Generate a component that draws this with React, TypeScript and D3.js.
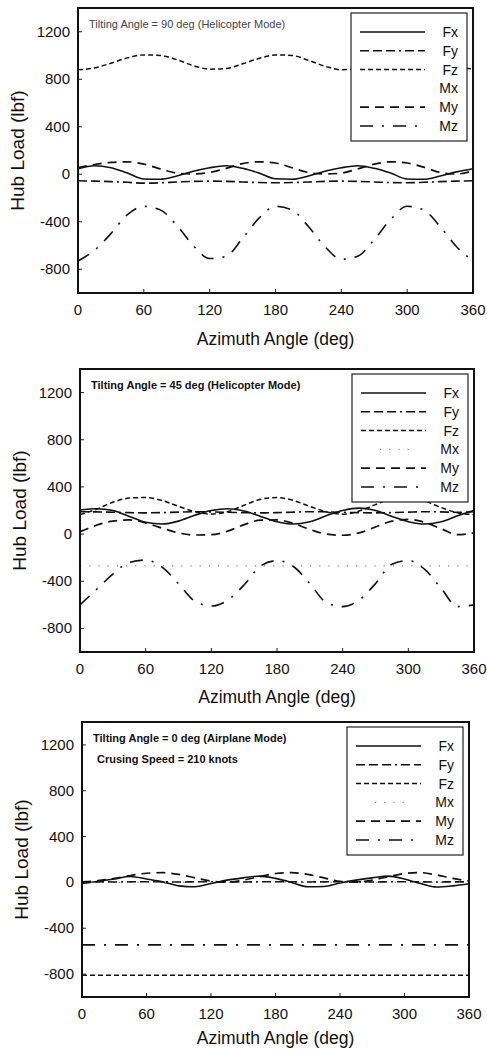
import React from 'react';
import * as d3 from 'd3';

const azimuth = [0, 15, 30, 45, 60, 75, 90, 105, 120, 135, 150, 165, 180, 195, 210, 225, 240, 255, 270, 285, 300, 315, 330, 345, 360];
const seriesNames = ['Fx', 'Fy', 'Fz', 'Mx', 'My', 'Mz'];
const xTicks = [0, 60, 120, 180, 240, 300, 360];
const yTicks = [-800, -400, 0, 400, 800, 1200];

// tilting angle 90 deg (helicopter mode)
const fx90 = [46, 72, 55, 10, -40, -42, -15, 25, 55, 72, 50, 10, -38, -42, -15, 25, 55, 72, 50, 10, -40, -42, -15, 20, 46];
const fy90 = [-55, -58, -62, -68, -75, -72, -65, -60, -58, -60, -65, -70, -72, -70, -65, -60, -58, -60, -65, -70, -72, -68, -62, -58, -55];
const fz90 = [880, 895, 935, 980, 1005, 1000, 965, 915, 885, 890, 930, 975, 1005, 1000, 960, 910, 880, 890, 930, 975, 1005, 1000, 960, 910, 885];
const mx90: number[] = [];
const my90 = [55, 82, 100, 105, 85, 45, 10, 2, 15, 50, 90, 105, 95, 55, 15, 2, 10, 45, 85, 105, 95, 60, 15, 2, 30];
const mz90 = [-730, -640, -500, -340, -270, -300, -430, -600, -710, -690, -540, -370, -270, -300, -440, -610, -715, -690, -550, -380, -270, -300, -440, -610, -730];

// tilting angle 45 deg (helicopter mode)
const fx45 = [205, 215, 200, 150, 100, 85, 110, 160, 200, 215, 195, 150, 105, 85, 105, 155, 200, 220, 200, 150, 105, 85, 105, 155, 200];
const fy45 = [190, 188, 185, 182, 180, 182, 186, 190, 188, 185, 182, 180, 182, 186, 190, 188, 185, 182, 180, 182, 186, 190, 188, 185, 190];
const fz45 = [165, 210, 270, 305, 310, 285, 235, 190, 170, 190, 245, 295, 310, 285, 235, 190, 168, 195, 250, 300, 310, 280, 225, 180, 165];
const mx45 = [-270, -270, -270, -270, -270, -270, -270, -270, -270, -270, -270, -270, -270, -270, -270, -270, -270, -270, -270, -270, -270, -270, -270, -270, -270];
const my45 = [20, 75, 110, 120, 95, 50, 10, -8, -5, 25, 80, 118, 120, 90, 40, 0, -10, 10, 60, 110, 125, 100, 45, -5, 10];
const mz45 = [-600, -470, -340, -240, -220, -280, -420, -570, -610, -560, -430, -270, -225, -275, -420, -580, -615, -560, -420, -255, -225, -300, -460, -615, -600];

// tilting angle 0 deg (airplane mode)
const fx0 = [-10, 10, 30, 52, 30, 5, -30, -38, -10, 20, 40, 55, 35, 0, -38, -35, -5, 20, 40, 55, 30, -10, -40, -30, -12];
const fy0 = [5, 5, 4, 5, 6, 5, 4, 5, 6, 5, 4, 5, 6, 5, 4, 5, 6, 5, 4, 5, 6, 5, 4, 5, 5];
const fz0 = [-810, -810, -810, -810, -810, -810, -810, -810, -810, -810, -810, -810, -810, -810, -810, -810, -810, -810, -810, -810, -810, -810, -810, -810, -810];
const mx0 = [0, 0, 0, 0, 0, 0, 0, 0, 0, 0, 0, 0, 0, 0, 0, 0, 0, 0, 0, 0, 0, 0, 0, 0, 0];
const my0 = [5, 15, 35, 60, 80, 85, 70, 40, 12, 2, 20, 50, 78, 85, 70, 40, 10, 2, 20, 50, 78, 85, 65, 35, 12];
const mz0 = [-545, -545, -545, -545, -545, -545, -545, -545, -545, -545, -545, -545, -545, -545, -545, -545, -545, -545, -545, -545, -545, -545, -545, -545, -545];

const styles: Record<string, { dash: string | null; color: string; width: number }> = {
  Fx: { dash: null, color: '#111', width: 1.6 },
  Fy: { dash: '9,4,9,4,9,4,2,4', color: '#111', width: 1.6 },
  Fz: { dash: '5,3', color: '#111', width: 1.5 },
  Mx: { dash: '1.2,8', color: '#888', width: 1.2 },
  My: { dash: '9,6', color: '#111', width: 1.7 },
  Mz: { dash: '13,9,2,9', color: '#111', width: 1.6 },
};

const font = '"Liberation Sans", Arial, sans-serif';

type PanelProps = {
  id: string;
  left: number;
  right: number;
  top: number;
  bottom: number;
  labelGap: number;
  data: number[][];
  notes: string[];
  bold: boolean;
};

const Panel = ({ id, left, right, top, bottom, labelGap, data, notes, bold }: PanelProps) => {
  const x = d3.scaleLinear().domain([0, 360]).range([left, right]);
  const y = d3.scaleLinear().domain([-1000, 1400]).range([bottom, top]);
  const line = d3
    .line<number>()
    .x((_, i) => x(azimuth[i]))
    .y((d) => y(d))
    .curve(d3.curveMonotoneX);

  const boxL = right - 122;
  const boxR = right - 6;
  const boxT = top + 5;

  return (
    <g>
      <defs>
        <clipPath id={id}>
          <rect x={left} y={top} width={right - left} height={bottom - top} />
        </clipPath>
      </defs>
      <g clipPath={`url(#${id})`}>
        {data.map((vals, k) =>
          vals.length ? (
            <path
              key={k}
              d={line(vals) || ''}
              fill="none"
              stroke={styles[seriesNames[k]].color}
              strokeWidth={styles[seriesNames[k]].width}
              strokeDasharray={styles[seriesNames[k]].dash || undefined}
            />
          ) : null
        )}
      </g>
      {/* legend */}
      <rect x={boxL} y={boxT} width={boxR - boxL} height={128} fill="#fff" stroke="#222" strokeWidth={1.2} />
      {seriesNames.map((name, k) => {
        const ry = top + 24 + k * 18.8;
        const st = styles[name];
        return (
          <g key={name}>
            {data[k].length ? (
              <line
                x1={name === 'Mx' ? boxL + 28 : boxL + 9}
                x2={name === 'Mx' ? boxL + 62 : boxL + 74}
                y1={ry}
                y2={ry}
                stroke={st.color}
                strokeWidth={st.width}
                strokeDasharray={st.dash || undefined}
              />
            ) : null}
            <text x={boxR - 9} y={ry + 5} textAnchor="end" fontSize={14} fontFamily={font} fill="#111">
              {name}
            </text>
          </g>
        );
      })}
      {notes.map((t, i) => (
        <text
          key={i}
          x={left + 11 + i * 4}
          y={top + 20 + i * 21}
          fontSize={11}
          fontWeight={bold ? 'bold' : 'normal'}
          fontFamily={font}
          fill={bold ? '#111' : '#444'}
        >
          {t}
        </text>
      ))}
      {/* ticks */}
      {xTicks.map((t) => (
        <g key={'x' + t}>
          <line x1={x(t)} x2={x(t)} y1={bottom} y2={bottom - 4} stroke="#222" strokeWidth={1} />
          <text x={x(t)} y={bottom + 22} textAnchor="middle" fontSize={15} fontFamily={font} fill="#111">
            {t}
          </text>
        </g>
      ))}
      {yTicks.map((t) => (
        <g key={'y' + t}>
          <line x1={left} x2={left + 4} y1={y(t)} y2={y(t)} stroke="#222" strokeWidth={1} />
          <text x={left - 8} y={y(t) + 5} textAnchor="end" fontSize={15} fontFamily={font} fill="#111">
            {t}
          </text>
        </g>
      ))}
      <rect x={left} y={top} width={right - left} height={bottom - top} fill="none" stroke="#111" strokeWidth={2} />
      <text
        x={(left + right) / 2}
        y={bottom + labelGap}
        textAnchor="middle"
        fontSize={17.5}
        fontFamily={font}
        fill="#111"
      >
        Azimuth Angle (deg)
      </text>
      <text
        transform={`translate(${left - 54},${(top + bottom) / 2}) rotate(-90)`}
        textAnchor="middle"
        fontSize={19}
        fontFamily={font}
        fill="#111"
      >
        Hub Load (lbf)
      </text>
    </g>
  );
};

export default function App() {
  return (
    <svg width={487} height={1049} style={{ position: 'absolute', left: 0, top: 0, background: '#fff' }}>
      <rect width={487} height={1049} fill="#fff" />
      <Panel
        id="p90"
        left={78}
        right={473}
        top={8}
        bottom={293}
        labelGap={52}
        data={[fx90, fy90, fz90, mx90, my90, mz90]}
        notes={['Tilting Angle = 90 deg (Helicopter Mode)']}
        bold={false}
      />
      <Panel
        id="p45"
        left={80}
        right={474}
        top={369}
        bottom={652}
        labelGap={51}
        data={[fx45, fy45, fz45, mx45, my45, mz45]}
        notes={['Tilting Angle = 45 deg (Helicopter Mode)']}
        bold={true}
      />
      <Panel
        id="p0"
        left={82}
        right={469}
        top={722}
        bottom={997}
        labelGap={47}
        data={[fx0, fy0, fz0, mx0, my0, mz0]}
        notes={['Tilting Angle = 0 deg (Airplane Mode)', 'Crusing Speed = 210 knots']}
        bold={true}
      />
    </svg>
  );
}
